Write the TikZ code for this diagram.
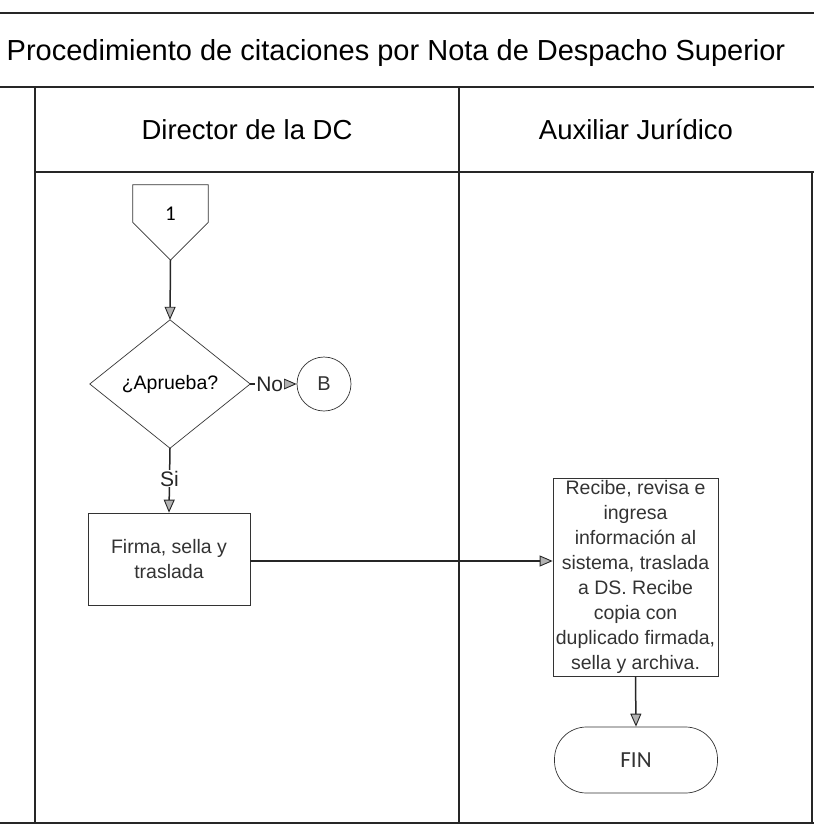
\documentclass[tikz,border=0pt]{standalone}
\usepackage{fontspec}
\setmainfont{Liberation Sans}
\newfontfamily\calfont{Carlito}
\usetikzlibrary{arrows.meta}
\begin{document}
\begin{tikzpicture}[x=1pt,y=-1pt,
  rule/.style={line width=1.3pt, black!85},
  outline/.style={line width=0.7pt, black!80},
  flow/.style={line width=1.5pt, black!85,
    -{Triangle[length=13pt,width=11pt,fill=gray!60,line width=0.9pt]}},
  body/.style={font=\fontsize{19.5}{25}\selectfont, align=center, inner sep=0pt},
  lbl/.style={font=\fontsize{21}{23}\selectfont, fill=white, inner sep=1pt},
  hdr/.style={font=\fontsize{27.5}{30}\selectfont, inner sep=0pt},
]
\useasboundingbox (0,0) rectangle (814,833);

% swimlane table
\draw[rule] (0,13) -- (814,13);
\draw[rule] (0,87) -- (814,87);
\draw[rule] (35,172) -- (814,172);
\draw[rule] (0,823) -- (814,823);
\draw[rule] (35,87) -- (35,823);
\draw[rule] (459,87) -- (459,823);
\draw[rule] (812,172) -- (812,823);

\node[font=\fontsize{29}{31}\selectfont, inner sep=0pt] (title) at (396,53)
  {Procedimiento de citaciones por Nota de Despacho Superior};
\node[hdr] (lane1) at (247,130) {Director de la DC};
\node[hdr] (lane2) at (636,130) {Auxiliar Jurídico};

% off-page connector "1"
\node[minimum width=75pt, minimum height=75pt, inner sep=0pt] (c1) at (170.5,222.5) {};
\draw[outline] (c1.north west) -- (c1.north east) -- (c1.east) -- (c1.south)
  -- (c1.west) -- cycle;
\node[font=\calfont\fontsize{21}{22}\selectfont] (c1t) at (170.5,214) {1};

% decision
\node[minimum width=160pt, minimum height=128pt, inner sep=0pt] (dec) at (170,384) {};
\draw[outline] (dec.north) -- (dec.east) -- (dec.south) -- (dec.west) -- cycle;
\node[body] (dect) at (dec.center) {¿Aprueba?};

% connector B
\node[draw, outline, circle, minimum size=54pt, inner sep=0pt,
  font=\fontsize{20}{21}\selectfont] (b) at (324,384) {B};

% process boxes
\node[draw, outline, minimum width=162pt, minimum height=92pt, body]
  (firma) at (169,559) {Firma, sella y\\traslada};
\node[draw, outline, minimum width=165pt, minimum height=198pt, body]
  (recibe) at (635.5,577) {Recibe, revisa e\\ingresa\\información al\\sistema, traslada\\a DS. Recibe\\copia con\\duplicado firmada,\\sella y archiva.};

% terminator
\node[draw, outline, rounded corners=32pt, minimum width=163pt, minimum height=66pt,
  font=\calfont\fontsize{23}{24}\selectfont] (fin) at (636,760) {FIN};

% connectors
\draw[flow] (c1.south) -- (dec.north);
\draw[flow] (dec.east) -- node[lbl, pos=0.42] {No} (b.west);
\draw[flow] (dec.south) -- node[lbl, pos=0.47] {Si} (firma.north);
\draw[flow] (firma.east |- 0,561) -- (recibe.west |- 0,561);
\draw[flow] (recibe.south) -- (fin.north);
\end{tikzpicture}
\end{document}
